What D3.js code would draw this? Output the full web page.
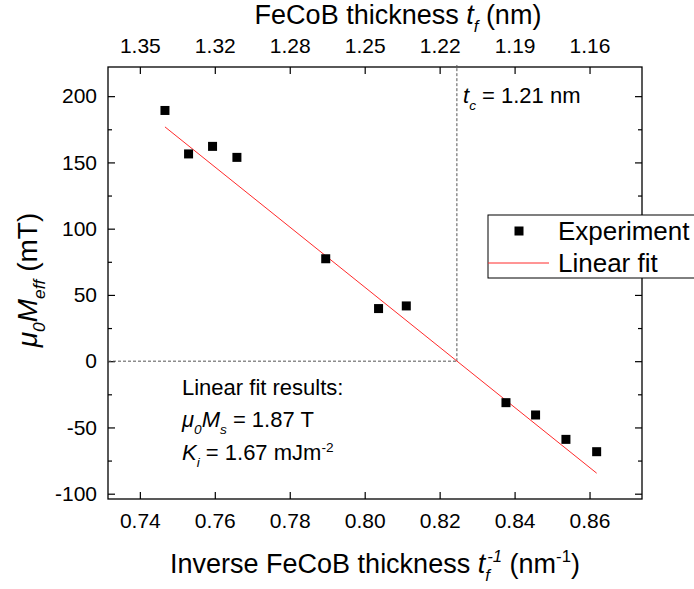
<!DOCTYPE html>
<html>
<head>
<meta charset="utf-8">
<script src="https://cdn.jsdelivr.net/npm/d3@7"></script>
<style>
  body { margin: 0; background: #fff; }
  svg { display: block; }
  text { font-family: "Liberation Sans", Arial, sans-serif; fill: #000; }
</style>
</head>
<body>
<svg id="chart" width="694" height="589"></svg>
<script>
// ---- data ----
const invThickness = [0.7467, 0.7530, 0.7594, 0.7659, 0.7896, 0.8037, 0.8111, 0.8377, 0.8456, 0.8537, 0.8619];
const meff = [189.2, 156.4, 162.1, 153.8, 77.3, 39.7, 41.7, -31.3, -40.6, -59.0, -68.3];
const fitX = [0.7467, 0.8619];
const fitY = [176.8, -84.5];
const criticalInv = 0.8246;
const xTicks = [0.74, 0.76, 0.78, 0.80, 0.82, 0.84, 0.86];
const topTickLabels = ["1.35", "1.32", "1.28", "1.25", "1.22", "1.19", "1.16"];
const yTicks = [-100, -50, 0, 50, 100, 150, 200];
const yMinorTicks = [-75, -25, 25, 75, 125, 175];
const xDomain = [0.7315, 0.874];
const yDomain = [-104, 222];

// ---- layout ----
const svg = d3.select("#chart");
const L = 108, R = 642, T = 67, B = 499;
const x = d3.scaleLinear().domain(xDomain).range([L, R]);
const y = d3.scaleLinear().domain(yDomain).range([B, T]);

const tickFont = 21;

// plot frame
svg.append("rect").attr("x", L).attr("y", T).attr("width", R - L).attr("height", B - T)
  .attr("fill", "none").attr("stroke", "#000").attr("stroke-width", 1.3);

// axes (inward ticks)
const bottomAxis = d3.axisBottom(x).tickValues(xTicks).tickFormat(d3.format(".2f"))
  .tickSizeInner(-7).tickSizeOuter(0).tickPadding(14);
svg.append("g").attr("transform", `translate(0,${B})`).call(bottomAxis);

const topAxis = d3.axisTop(x).tickValues(xTicks).tickFormat((d, i) => topTickLabels[i])
  .tickSizeInner(-7).tickSizeOuter(0).tickPadding(14);
svg.append("g").attr("transform", `translate(0,${T})`).call(topAxis);

const leftAxis = d3.axisLeft(y).tickValues(yTicks).tickFormat(d => String(d))
  .tickSizeInner(-7).tickSizeOuter(0).tickPadding(11);
svg.append("g").attr("transform", `translate(${L},0)`).call(leftAxis);

const leftMinor = d3.axisLeft(y).tickValues(yMinorTicks).tickFormat("")
  .tickSizeInner(-4).tickSizeOuter(0);
svg.append("g").attr("transform", `translate(${L},0)`).call(leftMinor);

const rightAxis = d3.axisRight(y).tickValues(yTicks).tickFormat("")
  .tickSizeInner(-7).tickSizeOuter(0);
svg.append("g").attr("transform", `translate(${R},0)`).call(rightAxis);
const rightMinor = d3.axisRight(y).tickValues(yMinorTicks).tickFormat("")
  .tickSizeInner(-4).tickSizeOuter(0);
svg.append("g").attr("transform", `translate(${R},0)`).call(rightMinor);

svg.selectAll(".domain").remove();
svg.selectAll(".tick line").attr("stroke", "#000").attr("stroke-width", 1.2);
svg.selectAll(".tick text").style("font-family", '"Liberation Sans", Arial, sans-serif')
  .style("font-size", tickFont + "px").attr("fill", "#000");

// dashed guide lines
svg.append("line").attr("x1", x(xDomain[0])).attr("x2", x(criticalInv))
  .attr("y1", y(0)).attr("y2", y(0))
  .attr("stroke", "#555").attr("stroke-width", 1).attr("stroke-dasharray", "3,2");
svg.append("line").attr("x1", x(criticalInv)).attr("x2", x(criticalInv))
  .attr("y1", y(0)).attr("y2", T - 2)
  .attr("stroke", "#555").attr("stroke-width", 1).attr("stroke-dasharray", "3,2");

// fit line
svg.append("line").attr("x1", x(fitX[0])).attr("y1", y(fitY[0]))
  .attr("x2", x(fitX[1])).attr("y2", y(fitY[1]))
  .attr("stroke", "#ff2a2a").attr("stroke-width", 1);

// points
const sq = 9;
svg.append("g").selectAll("rect").data(invThickness.map((d, i) => [d, meff[i]]))
  .join("rect")
  .attr("x", d => x(d[0]) - sq / 2).attr("y", d => y(d[1]) - sq / 2)
  .attr("width", sq).attr("height", sq).attr("fill", "#000");

// helper for rich text
function rich(parent, xPos, yPos, parts, size, anchor) {
  const t = parent.append("text").attr("x", xPos).attr("y", yPos)
    .style("font-size", size + "px").attr("text-anchor", anchor || "start");
  let shift = 0;
  parts.forEach(p => {
    const s = t.append("tspan").text(p.t);
    if (p.i) s.style("font-style", "italic");
    let target = 0;
    if (p.sub) target = size * 0.3;
    if (p.sup) target = -size * 0.38;
    const dy = target - shift;
    if (dy !== 0) s.attr("dy", dy);
    shift = target;
    if (p.sub || p.sup) s.style("font-size", (size * 0.62) + "px");
  });
  return t;
}

function measure(str, size, italic) {
  const tmp = svg.append("text").style("font-size", size + "px").text(str);
  if (italic) tmp.style("font-style", "italic");
  const w = tmp.node().getComputedTextLength(); tmp.remove();
  return w;
}

// top title
rich(svg, 398, 24, [
  { t: "FeCoB thickness " }, { t: "t", i: 1 }, { t: "f", i: 1, sub: 1 }, { t: " (nm)" }
], 27, "middle");

// bottom title (stacked sub/sup on t)
(function () {
  const size = 27, ss = size * 0.62;
  const t = svg.append("text").attr("y", 573).style("font-size", size + "px");
  t.append("tspan").text("Inverse FeCoB thickness ");
  t.append("tspan").text("t").style("font-style", "italic");
  t.append("tspan").text("-1").style("font-style", "italic").style("font-size", ss + "px")
    .attr("dy", -size * 0.4).attr("dx", 2);
  const wSup = measure("-1", ss, true), wSub = measure("f", ss, true);
  t.append("tspan").text("f").style("font-style", "italic").style("font-size", ss + "px")
    .attr("dy", size * 0.7).attr("dx", -wSup - 2);
  t.append("tspan").text(" (nm").attr("dy", -size * 0.3).attr("dx", Math.max(0, wSup + 2 - wSub));
  t.append("tspan").text("-1").style("font-size", ss + "px").attr("dy", -size * 0.4);
  t.append("tspan").text(")").attr("dy", size * 0.4);
  const total = t.node().getBBox().width;
  t.attr("x", 375 - total / 2);
})();

// y title
(function () {
  const t = rich(svg, 0, 0, [
    { t: "\u03bc", i: 1 }, { t: "0", i: 1, sub: 1 }, { t: "M", i: 1 }, { t: "eff", i: 1, sub: 1 }, { t: " (mT)" }
  ], 28, "middle");
  t.attr("transform", "translate(37,280) rotate(-90)");
})();

// t_c label
rich(svg, 463, 103, [
  { t: "t", i: 1 }, { t: "c", i: 1, sub: 1 }, { t: " = 1.21 nm" }
], 22);

// fit results
rich(svg, 182, 395, [{ t: "Linear fit results:" }], 22);
rich(svg, 182, 427, [
  { t: "\u03bc", i: 1 }, { t: "0", i: 1, sub: 1 }, { t: "M", i: 1 }, { t: "s", i: 1, sub: 1 }, { t: " = 1.87 T" }
], 22);
rich(svg, 182, 460, [
  { t: "K", i: 1 }, { t: "i", i: 1, sub: 1 }, { t: " = 1.67 mJm" }, { t: "-2", sup: 1 }
], 22);

// legend
const lg = svg.append("g");
lg.append("rect").attr("x", 488).attr("y", 215).attr("width", 240).attr("height", 63)
  .attr("fill", "#fff").attr("stroke", "#000").attr("stroke-width", 1);
lg.append("rect").attr("x", 519 - 4.5).attr("y", 231 - 4.5).attr("width", 9).attr("height", 9).attr("fill", "#000");
lg.append("line").attr("x1", 488).attr("x2", 549).attr("y1", 263).attr("y2", 263)
  .attr("stroke", "#ff2a2a").attr("stroke-width", 1);
lg.append("text").attr("x", 558).attr("y", 240).style("font-size", "26px").text("Experiment");
lg.append("text").attr("x", 558).attr("y", 272).style("font-size", "26px").text("Linear fit");
</script>
</body>
</html>
